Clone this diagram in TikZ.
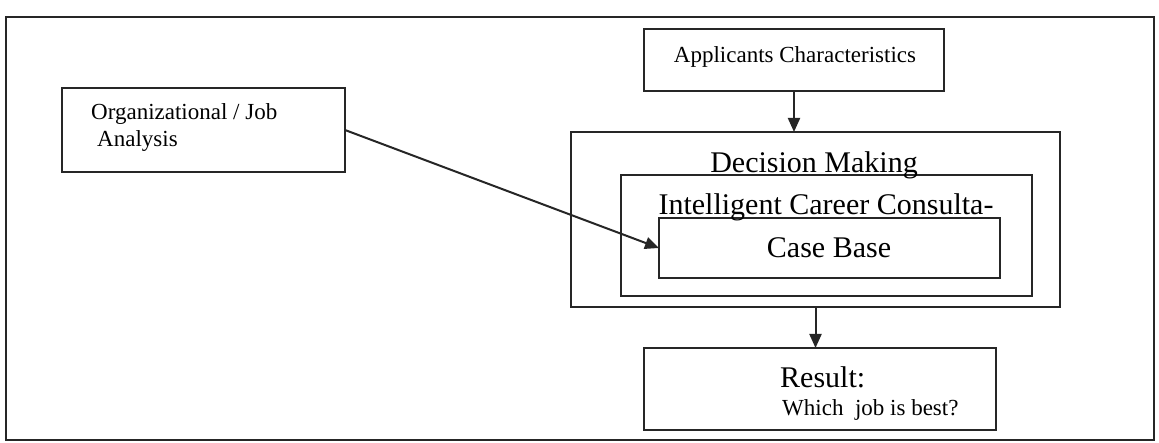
\documentclass[tikz,border=0pt]{standalone}
\usepackage{fontspec}
\setmainfont{Liberation Serif}
\usetikzlibrary{arrows.meta}
\begin{document}
\begin{tikzpicture}[x=1pt,y=-1pt,
  box/.style={draw=black!85, line width=2.1pt, inner sep=0pt, outer sep=0pt},
  small/.style={font=\fontsize{23}{26}\selectfont, inner sep=0pt},
  big/.style={font=\fontsize{30}{33}\selectfont, inner sep=0pt},
  conn/.style={draw=black!85, line width=2pt, -{Triangle[length=14pt,width=12pt]}}]
\useasboundingbox (0,0) rectangle (1159,443);
% outer frame
\node[box, minimum width=1148pt, minimum height=423pt] (frame) at (580,228.5) {};
% boxes
\node[box, minimum width=283pt, minimum height=84pt] (org) at (203.5,130) {};
\node[box, minimum width=300pt, minimum height=62pt] (app) at (794,60) {};
\node[box, minimum width=489pt, minimum height=175pt] (dec) at (815.5,219.5) {};
\node[box, minimum width=411pt, minimum height=121pt] (icc) at (826.5,235.5) {};
\node[box, minimum width=341pt, minimum height=60pt] (case) at (829.5,248) {};
\node[box, minimum width=352pt, minimum height=82pt] (res) at (820,389) {};
% texts
\node[small, anchor=base west] (orgt1) at (91,120) {Organizational / Job};
\node[small, anchor=base west] (orgt2) at (97,147) {Analysis};
\node[small, anchor=base] (appt) at (795,63) {Applicants Characteristics};
\node[big, anchor=base] (dect) at (814,173) {Decision Making};
\node[big, anchor=base] (icct) at (826,215) {Intelligent Career Consulta-};
\node[big, anchor=base] (caset) at (829,258) {Case Base};
\node[big, anchor=base west] (rest1) at (780,388) {Result:};
\node[small, anchor=base west] (rest2) at (782,415) {Which\ \ job is best?};
% connectors
\draw[conn] (app.south) -- (app.south |- dec.north);
\draw[conn] (dec.south) -- (dec.south |- res.north);
\draw[conn] (org.east) -- (case.west);
\end{tikzpicture}
\end{document}
